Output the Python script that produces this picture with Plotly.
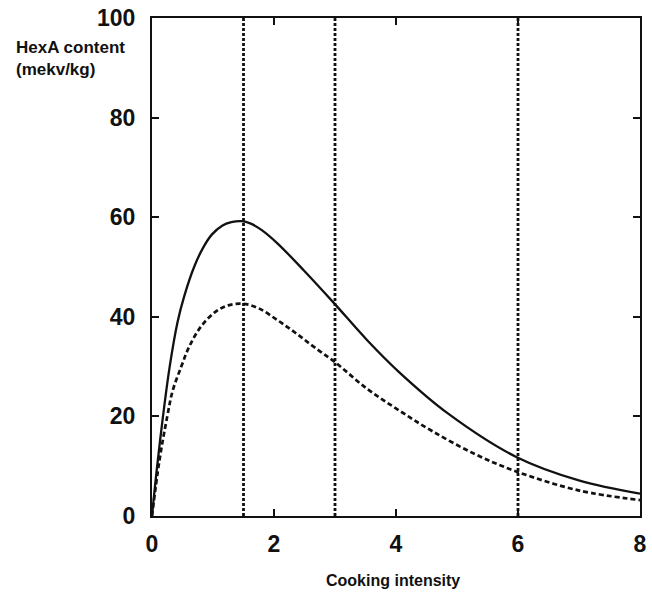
import plotly.graph_objects as go

# HexA content vs cooking intensity
solid_x = [0, 0.08, 0.18, 0.29, 0.42, 0.53, 0.69, 0.83, 0.98, 1.15, 1.30, 1.47, 1.62, 1.80,
           2.06, 2.49, 2.98, 3.52, 4.05, 4.85, 5.98, 7.01, 8.0]
solid_y = [0, 9.5, 20.0, 30.0, 39.0, 44.2, 50.0, 53.7, 56.5, 58.3, 59.0, 59.2, 58.7, 57.4,
           54.7, 49.3, 42.8, 35.4, 28.9, 20.6, 11.8, 7.1, 4.5]

dashed_x = [0, 0.12, 0.25, 0.34, 0.48, 0.61, 0.80, 1.04, 1.25, 1.50, 1.75, 2.06, 2.36, 2.66,
            3.0, 3.52, 4.05, 4.6, 5.3, 5.98, 7.01, 8.0]
dashed_y = [0, 11.0, 20.0, 25.2, 30.0, 34.0, 38.0, 41.0, 42.3, 42.6, 41.7, 39.3, 36.7, 33.9,
            30.9, 25.6, 21.2, 17.0, 12.4, 8.9, 5.1, 3.2]

# cooking intensities marked by vertical reference lines
marker_x = [1.5, 3, 6]

x_ticks = [0, 2, 4, 6, 8]
y_ticks = [0, 20, 40, 60, 80, 100]

INK = "#111111"
FONT = "Liberation Sans, Arial, sans-serif"

fig = go.Figure()
fig.add_trace(go.Scatter(
    x=solid_x, y=solid_y, mode="lines",
    line=dict(color=INK, width=2.3, shape="spline", smoothing=1.0),
    hoverinfo="skip", showlegend=False,
))
fig.add_trace(go.Scatter(
    x=dashed_x, y=dashed_y, mode="lines",
    line=dict(color=INK, width=2.7, shape="spline", smoothing=1.0, dash="5px,3px"),
    hoverinfo="skip", showlegend=False,
))

for xv in marker_x:
    fig.add_shape(type="line", xref="x", yref="paper", x0=xv, x1=xv, y0=0, y1=1,
                  line=dict(color=INK, width=2.8, dash="3px,2px"), layer="above")

axis_common = dict(
    showline=True, linecolor=INK, linewidth=2, mirror="ticks",
    ticks="inside", ticklen=7, tickwidth=2, tickcolor=INK,
    showgrid=False, zeroline=False,
    tickfont=dict(family=FONT, size=23, color=INK, weight="bold"),
)

fig.update_xaxes(range=[0, 8], tickvals=x_ticks, ticklabelstandoff=6, **axis_common)
fig.update_yaxes(range=[0, 100], tickvals=y_ticks, ticklabelstandoff=10, **axis_common)

fig.add_annotation(
    text="HexA content<br>(mekv/kg)", xref="paper", yref="paper",
    x=-0.283, y=0.964, xanchor="left", yanchor="top", align="left", showarrow=False,
    font=dict(family=FONT, size=17, color=INK, weight="bold"),
)
fig.add_annotation(
    text="Cooking intensity", xref="paper", yref="paper",
    x=0.493, y=-0.13, xanchor="center", yanchor="middle", showarrow=False,
    font=dict(family=FONT, size=16, color=INK, weight="bold"),
)

fig.update_layout(
    width=652, height=592,
    margin=dict(l=152, r=5, t=18, b=76),
    paper_bgcolor="white", plot_bgcolor="white",
)

fig.write_html("out.html")
